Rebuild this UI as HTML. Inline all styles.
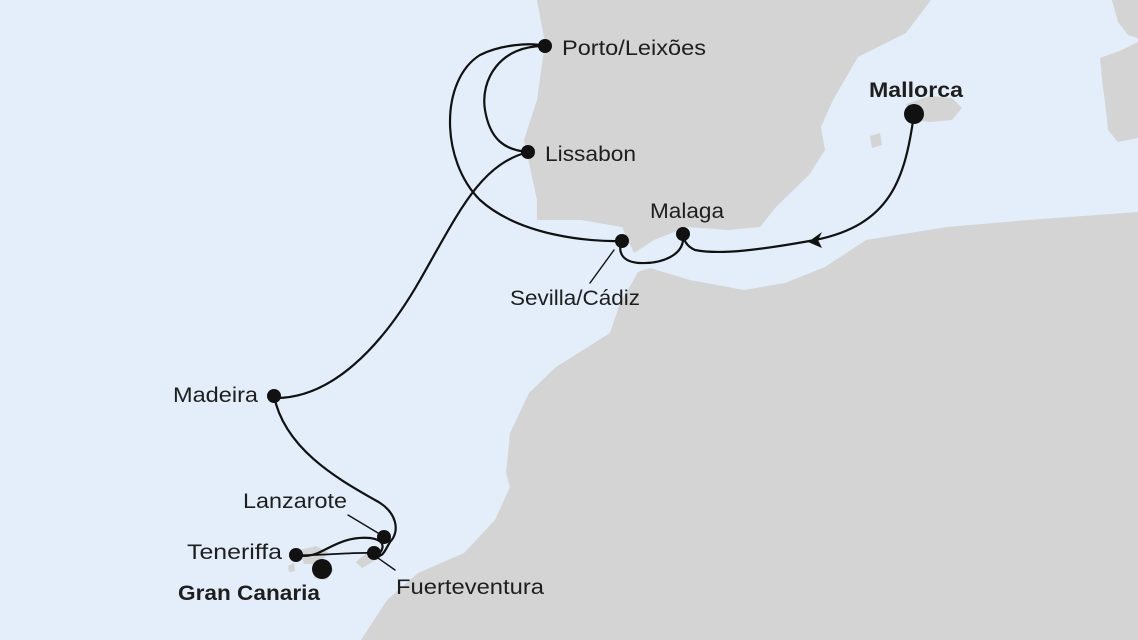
<!DOCTYPE html>
<html><head><meta charset="utf-8"><style>
html,body{margin:0;padding:0;width:1138px;height:640px;overflow:hidden;background:#e4eefa}
svg{display:block}
text{font-family:"Liberation Sans",sans-serif;font-size:21px;fill:#1e1e1e}
</style></head><body>
<svg width="1138" height="640" viewBox="0 0 1138 640">
<rect width="1138" height="640" fill="#e4eefa"/>
<g fill="#d4d4d4">
<path d="M537,0 L931,0 L906,33 L858,57 L833,100 L821,127 L825,150 L809,175 L776,207 L760,227 L728,230 L687,227 L654,240 L634,253 L622,227 L581,220 L537,220 L537,200 L524,140 L537,100 L545,43 Z"/>
<path d="M906,104 L930,96 L952,98 L962,108 L952,120 L930,122 L912,120 Z"/>
<path d="M870,136 L880,133 L882,145 L872,148 Z"/>
<path d="M1112,0 L1138,0 L1138,38 L1128,35 L1118,22 Z"/>
<path d="M1100,58 L1122,50 L1138,42 L1138,138 L1118,142 L1108,130 L1106,110 L1102,80 Z"/>
<path d="M1138,212 L1028,220 L947,227 L866,240 L825,267 L785,283 L744,290 L690,280 L650,268 L638,272 L628,290 L621,300 L610,333 L556,367 L529,393 L510,433 L506,473 L510,487 L495,520 L464,553 L418,573 L387,600 L361,640 L1138,640 Z"/>
<path d="M300,550 L316,546 L328,552 L320,564 L304,564 Z"/>
<path d="M312,568 L326,562 L334,570 L326,580 L314,578 Z"/>
<path d="M356,562 L370,550 L380,548 L376,560 L362,568 Z"/>
<path d="M288,566 L294,563 L295,571 L289,572 Z"/>
</g>
<g fill="none" stroke="#111" stroke-width="2.2" stroke-linecap="round">
<path d="M914,114 C905,180 890,225 815,240 C760,250 720,255 695,250 C686,246 684,240 683,234"/>
<path d="M683,234 C686,256 660,264 640,263 C620,262 618,250 622,241"/>
<path d="M622,241 C590,242 520,236 480,200 C440,160 440,80 480,55 C500,45 530,42 545,46"/>
<path d="M545,46 C500,45 480,80 485,110 C490,140 505,150 528,152"/>
<path d="M528,152 C480,165 460,210 420,280 C380,350 330,398 276,398"/>
<path d="M274,396 C285,450 340,480 375,500 C398,512 400,532 390,542 C385,550 384,556 376,557"/>
<path d="M376,557 C386,548 385,540 370,538 C345,536 330,548 318,553 C308,557 300,556 296,555"/>
<path d="M296,555 C320,556 350,552 374,553" stroke-width="1.8"/>
<path d="M614,250 L590,283" stroke-width="1.4"/>
<path d="M348,515 L378,533" stroke-width="1.4"/>
<path d="M378,558 L395,570" stroke-width="1.4"/>
</g>
<path d="M808,242 L822,232 L818,240 L822,248 Z" fill="#111"/>
<g fill="#111">
<circle cx="914" cy="114" r="10"/>
<circle cx="683" cy="234" r="7"/>
<circle cx="622" cy="241" r="7"/>
<circle cx="545" cy="46" r="7"/>
<circle cx="528" cy="152" r="7"/>
<circle cx="274" cy="396" r="7"/>
<circle cx="384" cy="537" r="7"/>
<circle cx="374" cy="553" r="7"/>
<circle cx="296" cy="555" r="7"/>
<circle cx="322" cy="569" r="10"/>
</g>
<g>
<text x="562" y="55" textLength="144" lengthAdjust="spacingAndGlyphs">Porto/Leixões</text>
<text x="545" y="161" textLength="91" lengthAdjust="spacingAndGlyphs">Lissabon</text>
<text x="650" y="218" textLength="74" lengthAdjust="spacingAndGlyphs">Malaga</text>
<text x="510" y="305" textLength="130" lengthAdjust="spacingAndGlyphs">Sevilla/Cádiz</text>
<text x="869" y="97" textLength="94" lengthAdjust="spacingAndGlyphs" font-weight="bold">Mallorca</text>
<text x="173" y="402" textLength="85" lengthAdjust="spacingAndGlyphs">Madeira</text>
<text x="243" y="508" textLength="104" lengthAdjust="spacingAndGlyphs">Lanzarote</text>
<text x="187" y="559" textLength="95" lengthAdjust="spacingAndGlyphs">Teneriffa</text>
<text x="178" y="600" textLength="142" lengthAdjust="spacingAndGlyphs" font-weight="bold">Gran Canaria</text>
<text x="396" y="594" textLength="148" lengthAdjust="spacingAndGlyphs">Fuerteventura</text>
</g>
</svg>
</body></html>
